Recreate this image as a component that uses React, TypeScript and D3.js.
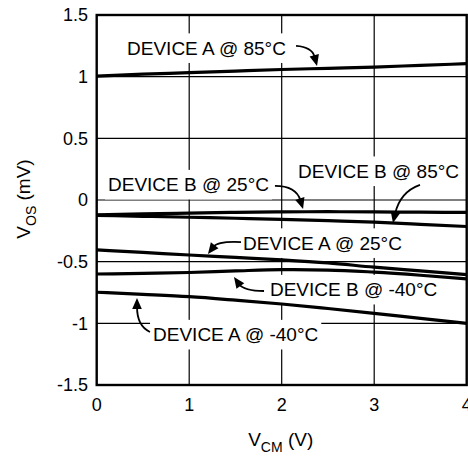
import React, { useEffect, useRef } from "react";
import * as d3 from "d3";

const W = 468;
const H = 456;

const vcm = [0, 0.5, 1, 1.5, 2, 2.5, 3, 3.5, 4];
const deviceA85 = [1.005, 1.02, 1.032, 1.045, 1.058, 1.068, 1.078, 1.092, 1.105];
const deviceB25 = [-0.12, -0.113, -0.106, -0.1, -0.096, -0.095, -0.097, -0.099, -0.1];
const deviceB85 = [-0.125, -0.132, -0.14, -0.148, -0.157, -0.168, -0.18, -0.197, -0.215];
const deviceA25 = [-0.405, -0.425, -0.446, -0.465, -0.485, -0.51, -0.545, -0.575, -0.605];
const deviceBm40 = [-0.6, -0.595, -0.588, -0.575, -0.565, -0.568, -0.585, -0.61, -0.64];
const deviceAm40 = [-0.748, -0.765, -0.784, -0.812, -0.843, -0.88, -0.919, -0.96, -1.0];

const xTicks = [0, 1, 2, 3, 4];
const yTicks = [-1.5, -1, -0.5, 0, 0.5, 1, 1.5];
const yTickLabels = ["-1.5", "-1", "-0.5", "0", "0.5", "1", "1.5"];

const labelTexts = [
  "DEVICE A @ 85°C",
  "DEVICE B @ 85°C",
  "DEVICE B @ 25°C",
  "DEVICE A @ 25°C",
  "DEVICE B @ -40°C",
  "DEVICE A @ -40°C",
];
// label anchor (start x, baseline) in data units
const labelPos: [number, number][] = [
  [0.328, 1.176],
  [2.177, 0.178],
  [0.122, 0.069],
  [1.582, -0.405],
  [1.873, -0.782],
  [0.609, -1.147],
];
// arrows: tail, control, tip in data units
const arrowTail: [number, number][] = [
  [2.155, 1.249],
  [3.495, 0.122],
  [1.927, 0.114],
  [1.56, -0.341],
  [1.809, -0.738],
  [0.576, -1.07],
];
const arrowCtrl: [number, number][] = [
  [2.328, 1.241],
  [3.279, 0.065],
  [2.155, 0.114],
  [1.311, -0.332],
  [1.592, -0.738],
  [0.436, -1.022],
];
const arrowTip: [number, number][] = [
  [2.382, 1.087],
  [3.203, -0.186],
  [2.231, -0.073],
  [1.203, -0.438],
  [1.484, -0.624],
  [0.436, -0.795],
];

const FONT = "'Liberation Sans', Arial, Helvetica, sans-serif";

export default function App() {
  const ref = useRef<SVGSVGElement>(null);

  useEffect(() => {
    const svg = d3.select(ref.current);
    svg.selectAll("*").remove();

    const x = d3.scaleLinear().domain([0, 4]).range([96.7, 466.7]);
    const y = d3.scaleLinear().domain([-1.5, 1.5]).range([385, 15]);

    const g = svg.append("g");

    // gridlines
    g.selectAll("line.vg")
      .data(xTicks.slice(1, -1))
      .join("line")
      .attr("x1", (d) => x(d))
      .attr("x2", (d) => x(d))
      .attr("y1", y(1.5))
      .attr("y2", y(-1.5))
      .attr("stroke", "#000")
      .attr("stroke-width", 1.2);
    g.selectAll("line.hg")
      .data(yTicks.slice(1, -1))
      .join("line")
      .attr("x1", x(0))
      .attr("x2", x(4))
      .attr("y1", (d) => y(d))
      .attr("y2", (d) => y(d))
      .attr("stroke", "#000")
      .attr("stroke-width", 1.2);

    // label background boxes (measured after text creation)
    const boxLayer = g.append("g");

    // data lines
    const series = [deviceA85, deviceB25, deviceB85, deviceA25, deviceBm40, deviceAm40];
    const line = d3
      .line<number>()
      .x((_, i) => x(vcm[i]))
      .y((d) => y(d))
      .curve(d3.curveMonotoneX);
    g.selectAll("path.series")
      .data(series)
      .join("path")
      .attr("d", (d) => line(d))
      .attr("fill", "none")
      .attr("stroke", "#000")
      .attr("stroke-width", 3.2)
      .attr("stroke-linecap", "butt");

    // frame
    g.append("rect")
      .attr("x", x(0))
      .attr("y", y(1.5))
      .attr("width", x(4) - x(0))
      .attr("height", y(-1.5) - y(1.5))
      .attr("fill", "none")
      .attr("stroke", "#000")
      .attr("stroke-width", 2.4);

    // labels
    const texts = g
      .selectAll("text.lbl")
      .data(labelTexts)
      .join("text")
      .attr("x", (_, i) => x(labelPos[i][0]))
      .attr("y", (_, i) => y(labelPos[i][1]))
      .attr("font-family", FONT)
      .attr("font-size", 19)
      .attr("fill", "#000")
      .text((d) => d);

    texts.each(function (_, i) {
      const t = this as SVGTextElement;
      const len = t.getComputedTextLength();
      const bx = x(labelPos[i][0]);
      const by = y(labelPos[i][1]);
      boxLayer
        .append("rect")
        .attr("x", bx - 3)
        .attr("y", by - 19 * 0.716 - 8)
        .attr("width", len + 6)
        .attr("height", 19 * 0.716 + 16)
        .attr("fill", "#fff");
    });

    // arrows
    arrowTip.forEach((tipD, i) => {
      const t0 = [x(arrowTail[i][0]), y(arrowTail[i][1])];
      const c = [x(arrowCtrl[i][0]), y(arrowCtrl[i][1])];
      const tip = [x(tipD[0]), y(tipD[1])];
      const dx = tip[0] - c[0];
      const dy = tip[1] - c[1];
      const L = Math.hypot(dx, dy);
      const ux = dx / L;
      const uy = dy / L;
      const hl = 11;
      const hw = 4.8;
      const base = [tip[0] - ux * hl, tip[1] - uy * hl];
      const path = d3.path();
      path.moveTo(t0[0], t0[1]);
      path.quadraticCurveTo(c[0], c[1], base[0] + ux * 2, base[1] + uy * 2);
      g.append("path")
        .attr("d", path.toString())
        .attr("fill", "none")
        .attr("stroke", "#000")
        .attr("stroke-width", 1.8);
      g.append("path")
        .attr(
          "d",
          `M${tip[0]},${tip[1]} L${base[0] - uy * hw},${base[1] + ux * hw} L${base[0] + uy * hw},${base[1] - ux * hw} Z`
        )
        .attr("fill", "#000");
    });

    // tick labels
    g.selectAll("text.xt")
      .data(xTicks)
      .join("text")
      .attr("x", (d) => x(d))
      .attr("y", 410.5)
      .attr("text-anchor", "middle")
      .attr("font-family", FONT)
      .attr("font-size", 18)
      .text((d) => String(d));
    g.selectAll("text.yt")
      .data(yTicks)
      .join("text")
      .attr("x", 88)
      .attr("y", (d) => y(d))
      .attr("dy", "0.36em")
      .attr("text-anchor", "end")
      .attr("font-family", FONT)
      .attr("font-size", 18)
      .text((_, i) => yTickLabels[i]);

    // axis titles
    const xt = g
      .append("text")
      .attr("x", x(2) - 1)
      .attr("y", 446)
      .attr("text-anchor", "middle")
      .attr("font-family", FONT)
      .attr("font-size", 19);
    xt.append("tspan").text("V");
    xt.append("tspan").attr("font-size", 14).attr("dy", 6).text("CM");
    xt.append("tspan").attr("dy", -6).text(" (V)");

    const yt = g
      .append("text")
      .attr("transform", `translate(30,${y(0) - 1}) rotate(-90)`)
      .attr("text-anchor", "middle")
      .attr("font-family", FONT)
      .attr("font-size", 19);
    yt.append("tspan").text("V");
    yt.append("tspan").attr("font-size", 14).attr("dy", 6).text("OS");
    yt.append("tspan").attr("dy", -6).text(" (mV)");
  }, []);

  return (
    <svg
      ref={ref}
      width={W}
      height={H}
      style={{ position: "absolute", left: 0, top: 0, background: "#fff" }}
    />
  );
}
